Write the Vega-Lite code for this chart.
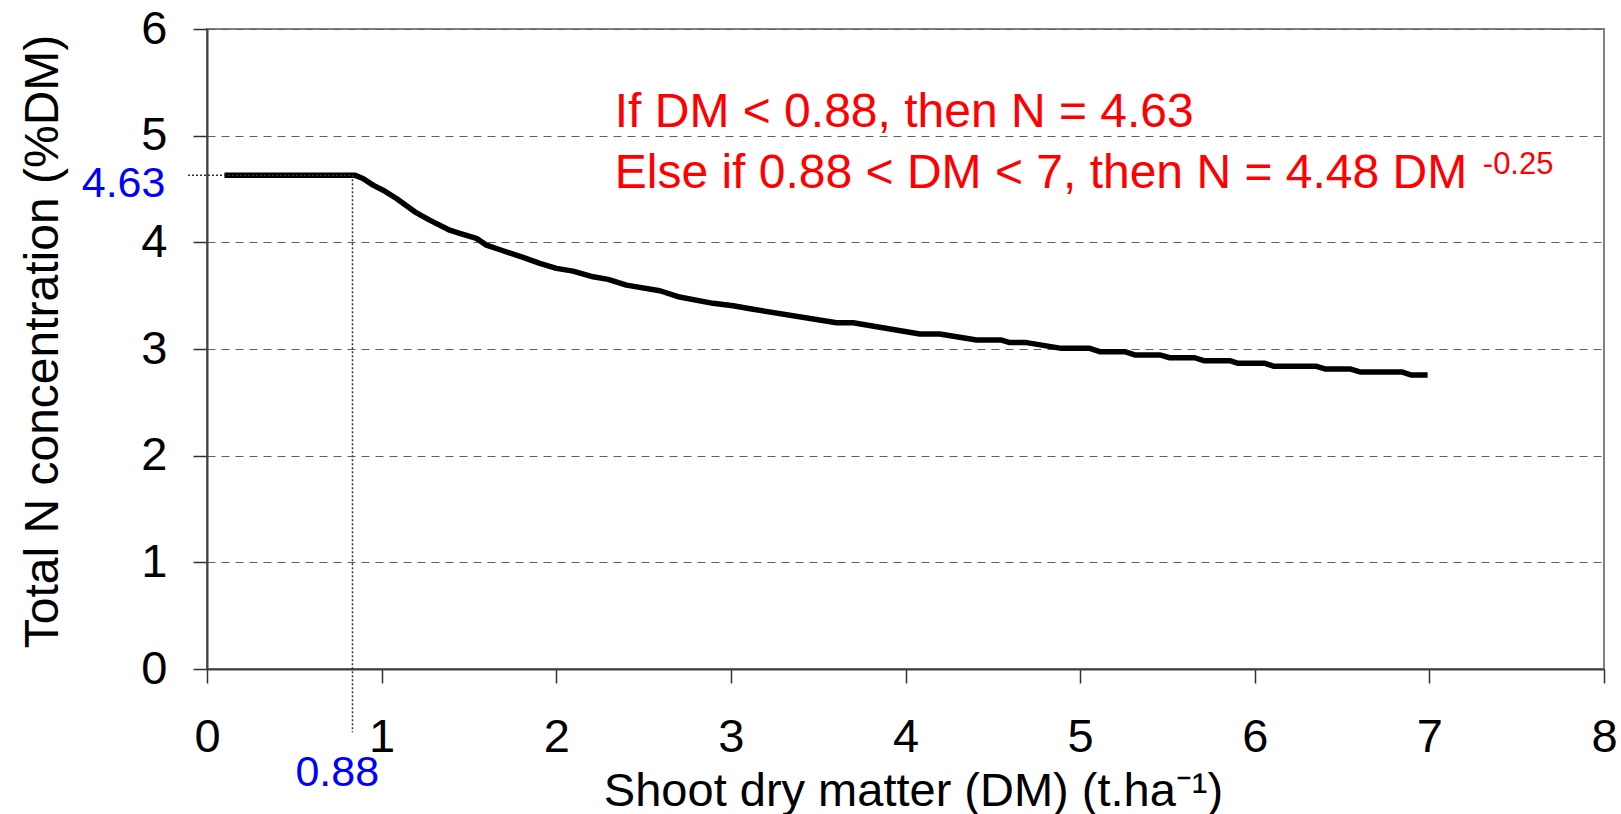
{
  "$schema": "https://vega.github.io/schema/vega-lite/v6.json",
  "autosize": "none",
  "width": 1397,
  "height": 640,
  "padding": {"left": 207, "top": 29, "right": 17, "bottom": 145},
  "background": "white",
  "config": {
    "font": "Liberation Sans",
    "view": {"stroke": "#808080", "strokeWidth": 2}
  },
  "datasets": {
    "curve": [
      {"x": 0.1, "y": 4.63}, {"x": 0.846, "y": 4.63}, {"x": 0.893, "y": 4.599}, {"x": 0.951, "y": 4.536},
      {"x": 1.008, "y": 4.489}, {"x": 1.085, "y": 4.411}, {"x": 1.19, "y": 4.286}, {"x": 1.275, "y": 4.208},
      {"x": 1.39, "y": 4.114}, {"x": 1.447, "y": 4.084}, {"x": 1.543, "y": 4.037}, {"x": 1.6, "y": 3.974},
      {"x": 1.695, "y": 3.921}, {"x": 1.81, "y": 3.859}, {"x": 1.906, "y": 3.803}, {"x": 2.001, "y": 3.756},
      {"x": 2.096, "y": 3.73}, {"x": 2.211, "y": 3.677}, {"x": 2.297, "y": 3.653}, {"x": 2.402, "y": 3.599},
      {"x": 2.593, "y": 3.546}, {"x": 2.698, "y": 3.49}, {"x": 2.898, "y": 3.428}, {"x": 3.013, "y": 3.405},
      {"x": 3.127, "y": 3.372}, {"x": 3.605, "y": 3.246}, {"x": 3.7, "y": 3.246}, {"x": 4.082, "y": 3.14},
      {"x": 4.196, "y": 3.14}, {"x": 4.407, "y": 3.084}, {"x": 4.55, "y": 3.084}, {"x": 4.597, "y": 3.06},
      {"x": 4.693, "y": 3.06}, {"x": 4.893, "y": 3.006}, {"x": 5.055, "y": 3.006}, {"x": 5.112, "y": 2.975},
      {"x": 5.256, "y": 2.975}, {"x": 5.313, "y": 2.944}, {"x": 5.456, "y": 2.944}, {"x": 5.513, "y": 2.918},
      {"x": 5.656, "y": 2.918}, {"x": 5.708, "y": 2.89}, {"x": 5.857, "y": 2.89}, {"x": 5.905, "y": 2.866},
      {"x": 6.058, "y": 2.866}, {"x": 6.11, "y": 2.838}, {"x": 6.354, "y": 2.838}, {"x": 6.402, "y": 2.813},
      {"x": 6.545, "y": 2.813}, {"x": 6.602, "y": 2.785}, {"x": 6.841, "y": 2.785}, {"x": 6.898, "y": 2.756},
      {"x": 6.99, "y": 2.756}
    ],
    "guides": [
      {"x": 0.833, "x2": 0.833, "y": 4.63, "y2": -0.594},
      {"x": -0.109, "x2": 0.833, "y": 4.63, "y2": 4.63}
    ],
    "equation": [
      {"x": 2.335, "y": 5.079, "label": "If DM < 0.88, then N = 4.63"},
      {"x": 2.335, "y": 4.508, "label": "Else if 0.88 < DM < 7, then N = 4.48 DM"}
    ],
    "exponent": [
      {"x": 7.306, "y": 4.637, "label": "-0.25"}
    ],
    "ylabel": [
      {"x": -0.238, "y": 4.426, "label": "4.63"}
    ],
    "xlabel": [
      {"x": 0.746, "y": -1.093, "label": "0.88"}
    ]
  },
  "layer": [
    {
      "data": {"name": "curve"},
      "mark": {"type": "line", "color": "black", "strokeWidth": 5.5, "strokeJoin": "round", "strokeCap": "butt"},
      "encoding": {
        "x": {
          "field": "x", "type": "quantitative",
          "scale": {"domain": [0, 8], "nice": false, "zero": false},
          "axis": {
            "values": [0, 1, 2, 3, 4, 5, 6, 7, 8],
            "format": "d",
            "grid": false,
            "tickSize": 14, "tickColor": "#303030", "tickWidth": 1.5,
            "domainColor": "#404040", "domainWidth": 2,
            "labelFontSize": 47, "labelColor": "black", "labelBaseline": "alphabetic",
            "labelPadding": 68, "labelFlush": false, "labelBound": false, "labelOverlap": false,
            "title": "Shoot dry matter (DM) (t.ha⁻¹)",
            "titleFontSize": 47, "titleFontWeight": "normal", "titleColor": "black",
            "titleX": 706, "titleY": 136, "titleBaseline": "alphabetic", "titleAlign": "center"
          }
        },
        "y": {
          "field": "y", "type": "quantitative",
          "scale": {"domain": [0, 6], "nice": false, "zero": false},
          "axis": {
            "values": [0, 1, 2, 3, 4, 5, 6],
            "format": "d",
            "grid": true, "gridDash": [8, 6], "gridColor": "#606060", "gridWidth": 1.2,
            "tickSize": 14, "tickColor": "#303030", "tickWidth": 1.5,
            "domainColor": "#404040", "domainWidth": 2,
            "labelFontSize": 47, "labelColor": "black", "labelBaseline": "middle",
            "labelPadding": 26, "labelFlush": false, "labelBound": false, "labelOverlap": false,
            "title": "Total N concentration (%DM)",
            "titleFontSize": 48, "titleFontWeight": "normal", "titleColor": "black",
            "titleAngle": -90, "titleX": -150, "titleY": 312, "titleBaseline": "alphabetic", "titleAlign": "center"
          }
        }
      }
    },
    {
      "data": {"name": "guides"},
      "mark": {"type": "rule", "color": "#303030", "strokeWidth": 1.5, "strokeDash": [2, 2]},
      "encoding": {
        "x": {"field": "x", "type": "quantitative"},
        "x2": {"field": "x2"},
        "y": {"field": "y", "type": "quantitative"},
        "y2": {"field": "y2"}
      }
    },
    {
      "data": {"name": "equation"},
      "mark": {"type": "text", "color": "#FF0000", "fontSize": 48, "align": "left", "baseline": "alphabetic"},
      "encoding": {
        "x": {"field": "x", "type": "quantitative"},
        "y": {"field": "y", "type": "quantitative"},
        "text": {"field": "label"}
      }
    },
    {
      "data": {"name": "exponent"},
      "mark": {"type": "text", "color": "#FF0000", "fontSize": 31, "align": "left", "baseline": "alphabetic"},
      "encoding": {
        "x": {"field": "x", "type": "quantitative"},
        "y": {"field": "y", "type": "quantitative"},
        "text": {"field": "label"}
      }
    },
    {
      "data": {"name": "ylabel"},
      "mark": {"type": "text", "color": "#0000FF", "fontSize": 43, "align": "right", "baseline": "alphabetic"},
      "encoding": {
        "x": {"field": "x", "type": "quantitative"},
        "y": {"field": "y", "type": "quantitative"},
        "text": {"field": "label"}
      }
    },
    {
      "data": {"name": "xlabel"},
      "mark": {"type": "text", "color": "#0000FF", "fontSize": 43, "align": "center", "baseline": "alphabetic"},
      "encoding": {
        "x": {"field": "x", "type": "quantitative"},
        "y": {"field": "y", "type": "quantitative"},
        "text": {"field": "label"}
      }
    }
  ]
}
